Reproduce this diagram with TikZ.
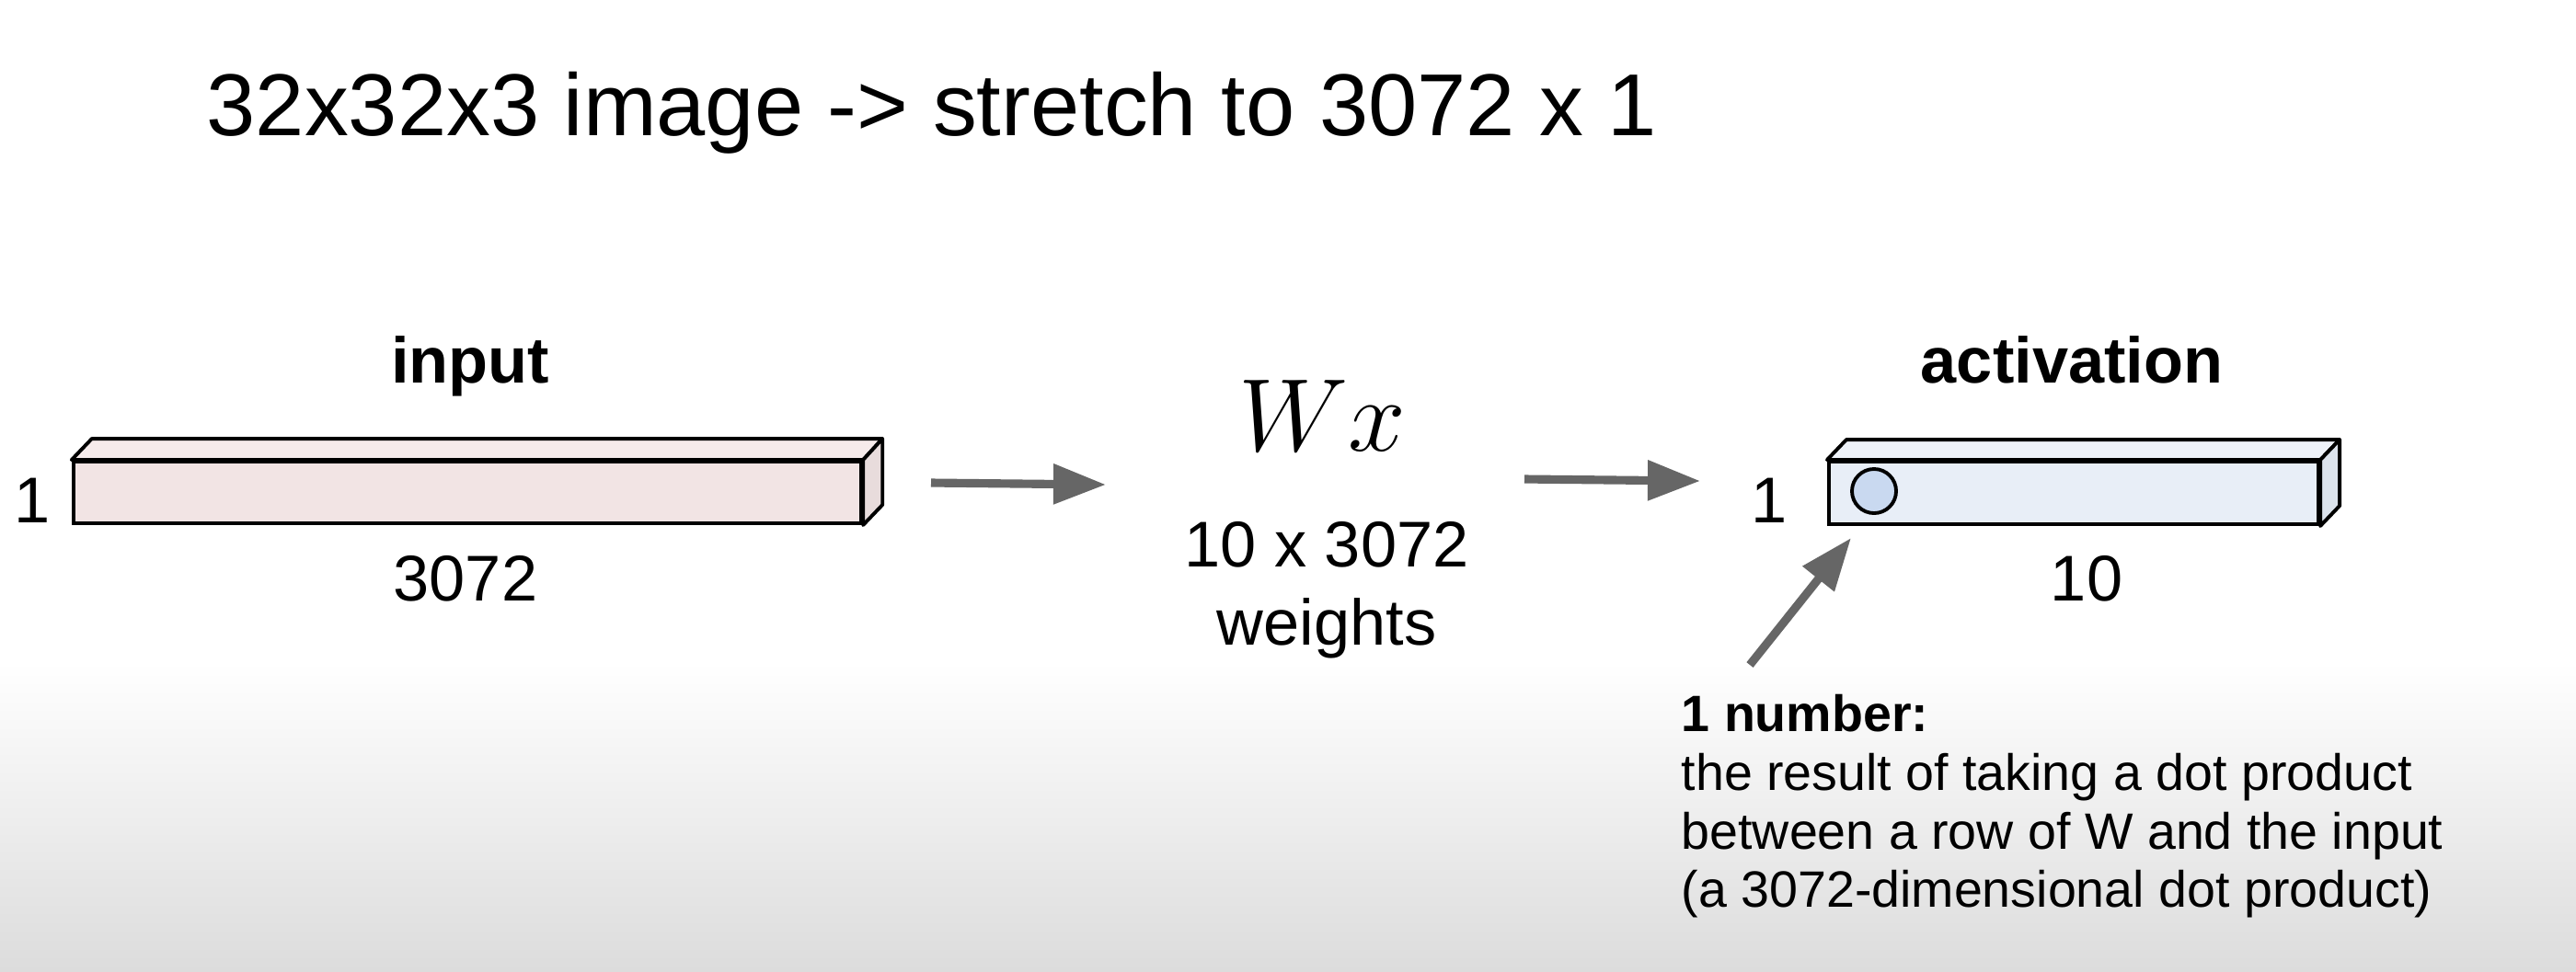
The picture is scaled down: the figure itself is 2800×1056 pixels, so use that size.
\documentclass[tikz,border=0pt]{standalone}
\usepackage{fontspec}
\setmainfont{Liberation Sans}
\usetikzlibrary{arrows.meta,positioning,calc}

\definecolor{inface}{HTML}{F2E4E4}
\definecolor{intop}{HTML}{F6EBEB}
\definecolor{inside}{HTML}{E8DCDC}
\definecolor{actface}{HTML}{E8EEF7}
\definecolor{acttop}{HTML}{EEF2F9}
\definecolor{actside}{HTML}{DCE3EC}
\definecolor{cellblue}{HTML}{C9D9F0}
\definecolor{arrowgray}{HTML}{666666}
\definecolor{floorgray}{HTML}{DCDCDC}

\begin{document}
\begin{tikzpicture}[x=0.01cm,y=-0.01cm,
    bar/.style={draw=black,line width=1.1pt,rectangle,inner sep=0pt},
    face/.style={draw=black,line width=1.1pt,line join=round},
    lbl/.style={inner sep=0pt,font=\fontsize{20}{24}\selectfont},
    fatarrow/.style={draw=arrowgray,line width=2.6pt,
        -{Triangle[length=0.57cm,width=0.42cm]}}]

    % background with the grey floor
    \useasboundingbox (0,0) rectangle (2800,1056);
    \fill[white] (0,0) rectangle (2800,1056);
    \shade[top color=white,bottom color=floorgray] (0,720) rectangle (2800,1056);

    % Title
    \node[inner sep=0pt,anchor=base west,font=\fontsize{27.2}{32}\selectfont]
        (title) at (224,147) {32x32x3 image -> stretch to 3072 x 1};

    % Input vector
    \node[bar,fill=inface,minimum width=8.56cm,minimum height=0.67cm]
        (inbar) at (508,535.5) {};
    \draw[face,fill=intop] (inbar.north west) -- ++(22,-23)
        -- ($(inbar.north east)+(21,-23)$) -- (inbar.north east) -- cycle;
    \draw[face,fill=inside] (inbar.north east) -- ++(21,-23)
        -- ($(inbar.south east)+(21,-22)$) -- (inbar.south east) -- cycle;
    \node[lbl,anchor=base,font=\fontsize{20}{24}\selectfont\bfseries]
        (inname) at (511,416) {input};
    \node[lbl,anchor=base] (inone) at (35,568) {1};
    \node[lbl,anchor=base] (inlen) at (506,653) {3072};

    % Weights
    \node[inner sep=0pt,font=\fontsize{24.88}{30}\selectfont,scale=1.286]
        (wx) at (1437,452) {$Wx$};
    \node[lbl,anchor=base] (wdim) at (1442,616) {10 x 3072};
    \node[lbl,anchor=base] (wname) at (1442,701) {weights};

    % Activation vector
    \node[bar,fill=actface,minimum width=5.32cm,minimum height=0.68cm]
        (actbar) at (2254,536) {};
    \draw[face,fill=acttop] (actbar.north west) -- ++(21,-22)
        -- ($(actbar.north east)+(21,-22)$) -- (actbar.north east) -- cycle;
    \draw[face,fill=actside] (actbar.north east) -- ++(21,-22)
        -- ($(actbar.south east)+(21,-22)$) -- (actbar.south east) -- cycle;
    \node[circle,draw=black,line width=1.1pt,fill=cellblue,inner sep=0pt,
        minimum size=0.48cm] (cell) at (2037,534) {};
    \node[lbl,anchor=base,font=\fontsize{20}{24}\selectfont\bfseries]
        (actname) at (2252,416) {activation};
    \node[lbl,anchor=base] (actone) at (1923,568) {1};
    \node[lbl,anchor=base] (actlen) at (2268,653) {10};

    % Note on one number
    \node[inner sep=0pt,anchor=north west,align=left,
        font=\fontsize{15.8}{18.1}\selectfont] (note) at (1827,755)
        {\textbf{1 number:}\\
         the result of taking a dot product\\
         between a row of W and the input\\
         (a 3072-dimensional dot product)};

    % Arrows
    \coordinate (a1s) at (1012,525);
    \coordinate (a1e) at (1202,527);
    \coordinate (a2s) at (1657,521);
    \coordinate (a2e) at (1848,523);
    \coordinate (ptr) at (2012,585);
    \coordinate (ptrtail) at (1902,723);
    \draw[fatarrow] (a1s) -- (a1e);
    \draw[fatarrow] (a2s) -- (a2e);
    \draw[fatarrow] (ptrtail) -- (ptr);
\end{tikzpicture}
\end{document}
